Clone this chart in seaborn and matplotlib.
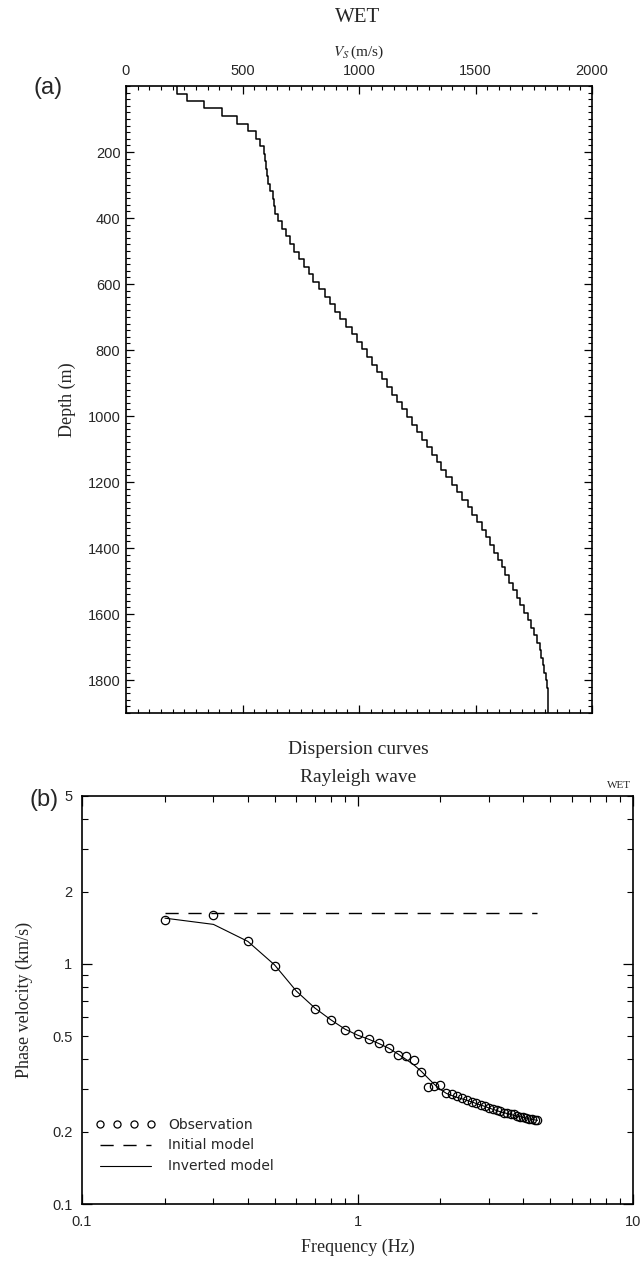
import matplotlib
matplotlib.use("Agg")
import matplotlib.pyplot as plt
import seaborn as sns
import numpy as np
import pandas as pd
from matplotlib.ticker import FixedLocator, MultipleLocator, NullFormatter

# ---------------- data: shear-wave velocity model (WET) ----------------
layer_top_m = [0, 23, 46, 68, 91, 114, 137, 160, 182, 205, 228, 251, 274, 296,
               319, 342, 365, 388, 410, 433, 456, 479, 502, 524, 547, 570, 593,
               616, 638, 661, 684, 707, 730, 752, 775, 798, 821, 844, 866, 889,
               912, 935, 958, 980, 1003, 1026, 1049, 1072, 1094, 1117, 1140,
               1163, 1186, 1208, 1231, 1254, 1277, 1300, 1322, 1345, 1368, 1391,
               1414, 1436, 1459, 1482, 1505, 1528, 1550, 1573, 1596, 1619, 1642,
               1664, 1687, 1710, 1733, 1756, 1778, 1801, 1824]
layer_vs = [218, 261, 335, 410, 476, 523, 556, 576, 591, 595, 601, 604, 608, 619,
            629, 634, 641, 652, 670, 685, 702, 720, 741, 763, 784, 804, 830, 852,
            875, 899, 920, 946, 968, 990, 1011, 1033, 1054, 1076, 1097, 1119,
            1140, 1162, 1183, 1205, 1226, 1248, 1270, 1291, 1312, 1333, 1354,
            1375, 1400, 1422, 1444, 1466, 1487, 1507, 1527, 1546, 1563, 1580,
            1596, 1612, 1628, 1644, 1660, 1676, 1691, 1708, 1725, 1740, 1753,
            1765, 1775, 1783, 1790, 1796, 1801, 1806, 1811]
model_bottom_m = 1900

# ---------------- data: Rayleigh-wave dispersion ----------------
freq_hz = [0.2, 0.3, 0.4, 0.5, 0.6, 0.7, 0.8, 0.9, 1.0, 1.1, 1.2, 1.3, 1.4,
           1.5, 1.6, 1.7, 1.8, 1.9, 2.0, 2.1, 2.2, 2.3, 2.4, 2.5, 2.6, 2.7,
           2.8, 2.9, 3.0, 3.1, 3.2, 3.3, 3.4, 3.5, 3.6, 3.7, 3.8, 3.9, 4.0,
           4.1, 4.2, 4.3, 4.4, 4.5]
observed_kms = [1.53, 1.60, 1.25, 0.98, 0.76, 0.651, 0.583, 0.529, 0.508, 0.487,
                0.470, 0.448, 0.416, 0.414, 0.398, 0.355, 0.308, 0.310, 0.314,
                0.290, 0.286, 0.281, 0.276, 0.272, 0.267, 0.263, 0.259, 0.256,
                0.252, 0.249, 0.246, 0.243, 0.240, 0.239, 0.237, 0.236, 0.233,
                0.231, 0.230, 0.228, 0.227, 0.225, 0.223, 0.224]
initial_kms = [1.63] * len(freq_hz)
inverted_kms = [1.55, 1.46, 1.24, 0.99, 0.77, 0.655, 0.585, 0.535, 0.505, 0.485,
                0.465, 0.445, 0.422, 0.400, 0.380, 0.358, 0.335, 0.315, 0.300,
                0.289, 0.283, 0.278, 0.274, 0.270, 0.266, 0.262, 0.258, 0.255,
                0.251, 0.248, 0.245, 0.242, 0.240, 0.238, 0.236, 0.234, 0.232,
                0.231, 0.229, 0.228, 0.226, 0.225, 0.224, 0.223]

vs_ticks = [0, 500, 1000, 1500, 2000]
depth_ticks = [200, 400, 600, 800, 1000, 1200, 1400, 1600, 1800]
freq_major = [0.1, 1, 10]
freq_major_labels = ["0.1", "1", "10"]
vel_major = [0.1, 1]
vel_major_labels = ["0.1", "1"]
vel_minor = [0.2, 0.3, 0.4, 0.5, 0.6, 0.7, 0.8, 0.9, 2, 3, 4, 5]
vel_minor_labels = ["0.2", "", "", "0.5", "", "", "", "", "2", "", "", "5"]

# ---------------- style ----------------
sns.set_theme(style="ticks")
SANS = ["Liberation Sans", "DejaVu Sans"]
SERIF = ["Liberation Serif", "DejaVu Serif"]
plt.rcParams["font.family"] = SANS
plt.rcParams["mathtext.fontset"] = "stix"
plt.rcParams["axes.linewidth"] = 1.2
plt.rcParams["axes.edgecolor"] = "black"

W, H = 644, 1262
fig = plt.figure(figsize=(W / 100, H / 100), dpi=100)


def box(left, top, right, bottom):
    return [left / W, 1 - bottom / H, (right - left) / W, (bottom - top) / H]


def fpos(x, y):
    return x / W, 1 - y / H


# ---------------- (a) velocity profile ----------------
axA = fig.add_axes(box(126, 86, 592, 713))

# staircase path through the layered model
tops = layer_top_m
bottoms = layer_top_m[1:] + [model_bottom_m]
prof = pd.DataFrame({
    "vs": [v for v in layer_vs for _ in (0, 1)],
    "depth": [d for pair in zip(tops, bottoms) for d in pair],
})
sns.lineplot(data=prof, x="vs", y="depth", ax=axA, sort=False, estimator=None,
             color="black", lw=1.1)

axA.set_xlim(0, 2000)
axA.set_ylim(model_bottom_m, 0)
axA.set_xticks(vs_ticks)
axA.set_xticklabels([str(t) for t in vs_ticks])
axA.xaxis.set_minor_locator(MultipleLocator(50))
axA.set_yticks(depth_ticks)
axA.set_yticklabels([str(t) for t in depth_ticks])
axA.yaxis.set_minor_locator(MultipleLocator(20))
axA.tick_params(which="both", direction="in", top=True, bottom=True,
                left=True, right=True, labeltop=True, labelbottom=False,
                color="black", labelsize=10.5)
axA.tick_params(which="major", length=6, width=0.9)
axA.tick_params(which="minor", length=3, width=0.8)
axA.tick_params(axis="x", which="major", pad=6)
axA.tick_params(axis="y", which="major", pad=4)
axA.set_xlabel("")
axA.set_ylabel("Depth (m)", family=SERIF, fontsize=13)
axA.yaxis.set_label_coords((76 - 126) / 466, 0.5)

fig.text(*fpos(358, 18), "WET", family=SERIF, fontsize=15,
         ha="center", va="center")
fig.text(*fpos(358, 52), r"$V_S\,$(m/s)", family=SERIF, fontsize=11,
         ha="center", va="center")
fig.text(*fpos(48, 88), "(a)", fontsize=17, ha="center", va="center")

# ---------------- (b) dispersion curves ----------------
axB = fig.add_axes(box(82, 796, 633, 1204))
axB.set_xscale("log")
axB.set_yscale("log")

disp = pd.DataFrame({"f": freq_hz, "obs": observed_kms,
                     "init": initial_kms, "inv": inverted_kms})

sns.lineplot(data=disp, x="f", y="init", ax=axB, estimator=None, sort=False,
             color="black", lw=1.0, dashes=False,
             linestyle=(0, (9.5, 7)), label="Initial model")
sns.lineplot(data=disp, x="f", y="inv", ax=axB, estimator=None, sort=False,
             color="black", lw=0.8, label="Inverted model")
sns.lineplot(data=disp, x="f", y="obs", ax=axB, estimator=None, sort=False,
             color="black", linestyle="none", marker="o", markersize=6,
             markerfacecolor="none", markeredgecolor="black",
             markeredgewidth=0.9, label="Observation")

axB.set_xlim(0.1, 10)
axB.set_ylim(0.1, 5)
axB.xaxis.set_major_locator(FixedLocator(freq_major))
axB.set_xticklabels(freq_major_labels)
axB.xaxis.set_minor_locator(FixedLocator(
    [0.2, 0.3, 0.4, 0.5, 0.6, 0.7, 0.8, 0.9, 2, 3, 4, 5, 6, 7, 8, 9]))
axB.xaxis.set_minor_formatter(NullFormatter())
axB.set_yticks(vel_major)
axB.set_yticklabels(vel_major_labels)
axB.set_yticks(vel_minor, labels=vel_minor_labels, minor=True)
axB.tick_params(which="both", direction="in", top=True, bottom=True,
                left=True, right=True, color="black", labelsize=10.5)
axB.tick_params(which="major", length=7, width=0.9)
axB.tick_params(which="minor", length=4, width=0.8)
axB.tick_params(axis="x", which="both", pad=8)
axB.tick_params(axis="y", which="both", pad=7)
axB.set_xlabel("Frequency (Hz)", family=SERIF, fontsize=13)
axB.xaxis.set_label_coords(0.5, -(1239 - 1204) / 408)
axB.set_ylabel("Phase velocity (km/s)", family=SERIF, fontsize=13)
axB.yaxis.set_label_coords((33 - 82) / 551, 0.5)

handles, labels = axB.get_legend_handles_labels()
order = [labels.index(n) for n in ("Observation", "Initial model", "Inverted model")]
leg = axB.legend([handles[i] for i in order], [labels[i] for i in order],
                 loc="lower left", bbox_to_anchor=(0.026, 0.075), frameon=False,
                 borderpad=0, borderaxespad=0, numpoints=4, handlelength=4.25,
                 handletextpad=0.9, labelspacing=0.5, markerscale=0.85,
                 prop={"family": ["DejaVu Sans"], "size": 10})

fig.text(*fpos(358, 749), "Dispersion curves", family=SERIF, fontsize=14,
         ha="center", va="center")
fig.text(*fpos(358, 778), "Rayleigh wave", family=SERIF, fontsize=14,
         ha="center", va="center")
fig.text(*fpos(631, 786), "WET", family=SERIF, fontsize=8,
         ha="right", va="center")
fig.text(*fpos(44, 800), "(b)", fontsize=17, ha="center", va="center")

fig.savefig("out.png", dpi=100)
